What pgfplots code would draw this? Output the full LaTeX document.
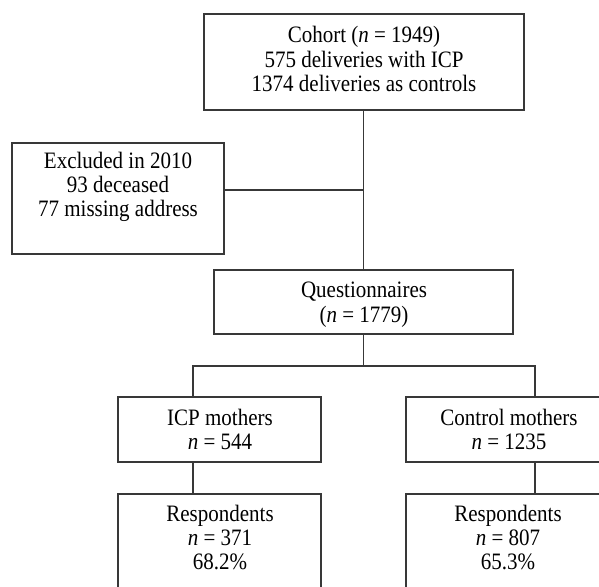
\documentclass[border=0pt]{standalone}
\usepackage{fontspec}
\setmainfont{Liberation Serif}
\usepackage{pgfplots}
\pgfplotsset{compat=1.18}
\tikzset{txt/.style={anchor=base, font=\fontsize{21}{25}\selectfont, text=black, inner sep=0pt}}
\newcommand{\T}[1]{\scalebox{1}[1.12]{#1}}
\pgfplotsset{ln/.style={mark=none, draw=black!78, solid, line width=1.5pt, line join=miter}}
\begin{document}
\begin{tikzpicture}
\begin{axis}[
  scale only axis, width=599pt, height=586pt,
  xmin=0, xmax=599, ymin=0, ymax=586, y dir=reverse,
  axis lines=none, clip=true, anchor=south west, at={(0,0)}
]
% boxes
\addplot[ln] coordinates {(204,14) (524,14) (524,110) (204,110)} -- cycle;
\addplot[ln] coordinates {(12,143) (224,143) (224,254) (12,254)} -- cycle;
\addplot[ln] coordinates {(214,270) (513,270) (513,334) (214,334)} -- cycle;
\addplot[ln] coordinates {(118,397) (321,397) (321,462) (118,462)} -- cycle;
\addplot[ln] coordinates {(406,397) (612,397) (612,462) (406,462)} -- cycle;
\addplot[ln] coordinates {(118,600) (118,494) (321,494) (321,600)};
\addplot[ln] coordinates {(406,600) (406,494) (612,494) (612,600)};
% connectors
\addplot[ln] coordinates {(363.5,110) (363.5,270)};
\addplot[ln] coordinates {(224,190) (363.5,190)};
\addplot[ln] coordinates {(363.5,334) (363.5,366)};
\addplot[ln] coordinates {(193,397) (193,366) (535,366) (535,397)};
\addplot[ln] coordinates {(193,462) (193,494)};
\addplot[ln] coordinates {(535,462) (535,494)};
% text
\node[txt] at (axis cs:364,43) {\T{Cohort (\textit{n} = 1949)}};
\node[txt] at (axis cs:364,67) {\T{575 deliveries with ICP}};
\node[txt] at (axis cs:364,91) {\T{1374 deliveries as controls}};
\node[txt] at (axis cs:118,168) {\T{Excluded in 2010}};
\node[txt] at (axis cs:118,192) {\T{93 deceased}};
\node[txt] at (axis cs:118,216) {\T{77 missing address}};
\node[txt] at (axis cs:364,297) {\T{Questionnaires}};
\node[txt] at (axis cs:364,322) {\T{(\textit{n} = 1779)}};
\node[txt] at (axis cs:220,425) {\T{ICP mothers}};
\node[txt] at (axis cs:220,449) {\T{\textit{n} = 544}};
\node[txt] at (axis cs:509,425) {\T{Control mothers}};
\node[txt] at (axis cs:509,449) {\T{\textit{n} = 1235}};
\node[txt] at (axis cs:220,521) {\T{Respondents}};
\node[txt] at (axis cs:220,545) {\T{\textit{n} = 371}};
\node[txt] at (axis cs:220,569) {\T{68.2\%}};
\node[txt] at (axis cs:508,521) {\T{Respondents}};
\node[txt] at (axis cs:508,545) {\T{\textit{n} = 807}};
\node[txt] at (axis cs:508,569) {\T{65.3\%}};
\end{axis}
\pgfresetboundingbox
\useasboundingbox (0,0) rectangle (599pt,586pt);
\end{tikzpicture}
\end{document}
